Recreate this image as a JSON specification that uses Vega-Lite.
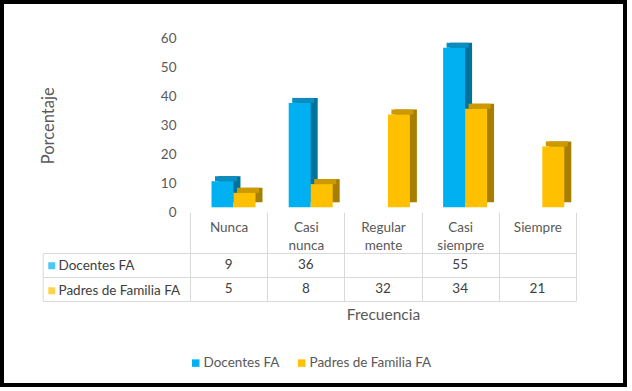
{
  "$schema": "https://vega.github.io/schema/vega-lite/v6.json",
  "autosize": {"type": "none"},
  "padding": {"left": 2, "top": 2, "right": 7, "bottom": 6},
  "width": 623,
  "height": 383,
  "background": "white",
  "config": {
    "font": "Lato",
    "view": {"stroke": "black", "strokeWidth": 4, "fill": "white"}
  },
  "data": {
    "values": [
      {"cat": "Nunca", "serie": "Docentes FA", "valor": 9},
      {"cat": "Nunca", "serie": "Padres de Familia FA", "valor": 5},
      {"cat": "Casi nunca", "serie": "Docentes FA", "valor": 36},
      {"cat": "Casi nunca", "serie": "Padres de Familia FA", "valor": 8},
      {"cat": "Regularmente", "serie": "Padres de Familia FA", "valor": 32},
      {"cat": "Casi siempre", "serie": "Docentes FA", "valor": 55},
      {"cat": "Casi siempre", "serie": "Padres de Familia FA", "valor": 34},
      {"cat": "Siempre", "serie": "Padres de Familia FA", "valor": 21}
    ]
  },
  "layer": [
    {
      "mark": {"type": "bar", "yOffset": -10, "y2Offset": -7},
      "encoding": {
        "x": {
          "field": "cat", "type": "nominal",
          "sort": ["Nunca", "Casi nunca", "Regularmente", "Casi siempre", "Siempre"],
          "scale": {"domain": ["Nunca", "Casi nunca", "Regularmente", "Casi siempre", "Siempre"], "range": [188, 574], "paddingInner": 0, "paddingOuter": 0},
          "axis": {
            "orient": "bottom", "offset": -172.7, "domain": false,
            "tickBand": "extent", "tickSize": 88.4, "tickColor": "#D9D9D9", "tickWidth": 1,
            "labelPadding": -80, "labelFontSize": 13.5, "labelColor": "#595959", "labelLineHeight": 18,
            "labelExpr": "!datum.value ? '' : (datum.value == 'Regularmente' ? ['Regular', 'mente'] : split(datum.value, ' '))",
            "labelAngle": 0,
            "title": "Frecuencia", "titlePadding": 6, "titleFontSize": 15.5, "titleFontWeight": "normal", "titleColor": "#595959"
          }
        },
        "xOffset": {"field": "serie", "type": "nominal", "scale": {"domain": ["Docentes FA", "Padres de Familia FA"], "paddingInner": 0, "paddingOuter": 0.7545, "align": 0.858}},
        "y": {"field": "valor", "type": "quantitative", "scale": {"domain": [0, 60], "range": [210.3, 36.3]}, "axis": null},
        "color": {"field": "serie", "type": "nominal", "scale": {"domain": ["Docentes FA", "Padres de Familia FA"], "range": ["#00729C", "#A67E00"]}, "legend": null}
      }
    },
    {
      "mark": {"type": "bar", "yOffset": -10, "y2Offset": -5},
      "encoding": {
        "x": {"field": "cat", "type": "nominal", "sort": ["Nunca", "Casi nunca", "Regularmente", "Casi siempre", "Siempre"]},
        "xOffset": {"field": "serie", "type": "nominal", "scale": {"domain": ["Docentes FA", "Padres de Familia FA"], "paddingInner": 0, "paddingOuter": 0.7545, "align": 0.753}},
        "y": {"field": "valor", "type": "quantitative", "scale": {"domain": [0, 60], "range": [210.3, 36.3]}, "axis": null},
        "y2": {"field": "valor"},
        "color": {"field": "serie", "type": "nominal", "scale": {"domain": ["Docentes FA", "Padres de Familia FA"], "range": ["#0C8CBF", "#CC9A00"]}, "legend": null}
      }
    },
    {
      "mark": {"type": "bar", "yOffset": -5, "y2Offset": -5},
      "encoding": {
        "x": {"field": "cat", "type": "nominal", "sort": ["Nunca", "Casi nunca", "Regularmente", "Casi siempre", "Siempre"]},
        "xOffset": {"field": "serie", "type": "nominal", "scale": {"domain": ["Docentes FA", "Padres de Familia FA"], "paddingInner": 0, "paddingOuter": 0.7545, "align": 0.648}},
        "y": {
          "field": "valor", "type": "quantitative",
          "scale": {"domain": [0, 60], "range": [210.3, 36.3]},
          "axis": {
            "orient": "left", "offset": -179, "domain": false, "ticks": false, "grid": false,
            "values": [0, 10, 20, 30, 40, 50, 60],
            "labelPadding": 5, "labelFontSize": 13.5, "labelColor": "#595959",
            "title": "Porcentaje", "titlePadding": 104, "titleFontSize": 16.5, "titleFontWeight": "normal", "titleColor": "#595959"
          }
        },
        "color": {
          "field": "serie", "type": "nominal",
          "scale": {"domain": ["Docentes FA", "Padres de Familia FA"], "range": ["#00B0F0", "#FFC000"]},
          "legend": {
            "orient": "none", "legendX": 187, "legendY": 354, "direction": "horizontal", "title": null,
            "symbolType": "square", "symbolSize": 56, "symbolStrokeWidth": 0,
            "labelFontSize": 13.5, "labelColor": "#595959", "labelOffset": 1, "columnPadding": 15
          }
        }
      }
    },
    {
      "mark": {"type": "text", "fontSize": 13.5, "color": "#404040"},
      "encoding": {
        "x": {"field": "cat", "type": "nominal", "sort": ["Nunca", "Casi nunca", "Regularmente", "Casi siempre", "Siempre"]},
        "y": {
          "field": "serie", "type": "nominal",
          "scale": {"domain": ["Docentes FA", "Padres de Familia FA"], "range": [251.3, 298.7], "paddingInner": 0, "paddingOuter": 0},
          "axis": {
            "orient": "left", "offset": -40.7, "domain": true, "domainColor": "#D9D9D9", "domainWidth": 1,
            "tickBand": "extent", "tickSize": -533.3, "tickColor": "#D9D9D9", "tickWidth": 1,
            "labels": false, "title": null, "grid": false
          }
        },
        "text": {"field": "valor", "type": "quantitative"}
      }
    },
    {
      "mark": {"type": "point", "shape": "square", "filled": true, "size": 0},
      "encoding": {
        "x": {"field": "cat", "type": "nominal", "sort": ["Nunca", "Casi nunca", "Regularmente", "Casi siempre", "Siempre"]},
        "y": {"field": "serie", "type": "nominal", "scale": {"domain": ["Docentes FA", "Padres de Familia FA"], "range": [251.3, 298.7], "paddingInner": 0, "paddingOuter": 0}, "axis": null},
        "fill": {
          "field": "serie", "type": "nominal",
          "scale": {"domain": ["Docentes FA", "Padres de Familia FA"], "range": ["#00B0F0", "#FFC000"]},
          "legend": {
            "orient": "none", "legendX": 43, "legendY": 257, "direction": "vertical", "title": null,
            "symbolType": "square", "symbolSize": 49, "symbolStrokeWidth": 0,
            "labelFontSize": 13.5, "labelColor": "#404040", "labelOffset": 0, "rowPadding": 10
          }
        }
      }
    }
  ],
  "resolve": {"scale": {"y": "independent", "color": "independent", "xOffset": "independent"}}
}
